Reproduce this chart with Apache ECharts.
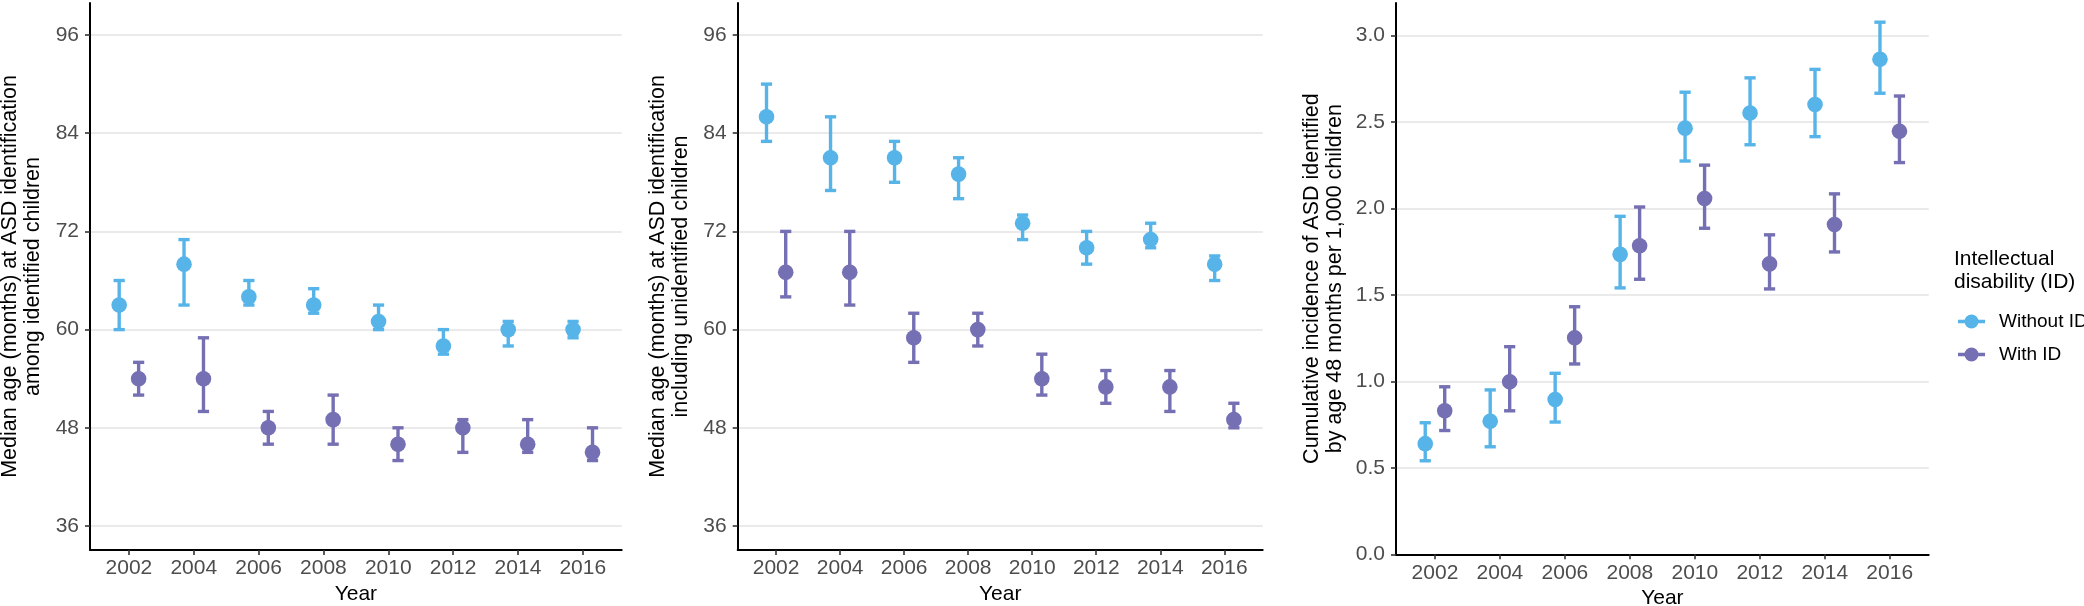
<!DOCTYPE html>
<html><head><meta charset="utf-8">
<script src="https://cdn.jsdelivr.net/npm/echarts@6/dist/echarts.min.js"></script>
<style>html,body{margin:0;padding:0;background:#fff}#c{width:2084px;height:606px}</style>
</head><body><div id="c"></div>
<script>
// ---------- data ----------
const years = [2002, 2004, 2006, 2008, 2010, 2012, 2014, 2016];
const seriesNames = ['Without ID', 'With ID'];

// Panel 1: median age among identified children
const p1WithoutMed = [63, 68, 64, 63, 61, 58, 60, 60];
const p1WithoutLo  = [60, 63, 63, 62, 60, 57, 58, 59];
const p1WithoutHi  = [66, 71, 66, 65, 63, 60, 61, 61];
const p1WithMed = [54, 54, 48, 49, 46, 48, 46, 45];
const p1WithLo  = [52, 50, 46, 46, 44, 45, 45, 44];
const p1WithHi  = [56, 59, 50, 52, 48, 49, 49, 48];

// Panel 2: median age including unidentified children
const p2WithoutMed = [86, 81, 81, 79, 73, 70, 71, 68];
const p2WithoutLo  = [83, 77, 78, 76, 71, 68, 70, 66];
const p2WithoutHi  = [90, 86, 83, 81, 74, 72, 73, 69];
const p2WithMed = [67, 67, 59, 60, 54, 53, 53, 49];
const p2WithLo  = [64, 63, 56, 58, 52, 51, 50, 48];
const p2WithHi  = [72, 72, 62, 62, 57, 55, 55, 51];

// Panel 3: cumulative incidence by 48 months per 1,000
const p3WithoutMed = [0.64, 0.77, 0.895, 1.735, 2.465, 2.553, 2.602, 2.864];
const p3WithoutLo  = [0.541, 0.622, 0.765, 1.541, 2.275, 2.369, 2.416, 2.667];
const p3WithoutHi  = [0.761, 0.951, 1.047, 1.955, 2.673, 2.756, 2.805, 3.078];
const p3WithMed = [0.83, 0.998, 1.253, 1.785, 2.058, 1.68, 1.908, 2.447];
const p3WithLo  = [0.716, 0.83, 1.101, 1.591, 1.886, 1.535, 1.749, 2.266];
const p3WithHi  = [0.969, 1.201, 1.432, 2.009, 2.251, 1.848, 2.085, 2.651];

const ageTicks = [36, 48, 60, 72, 84, 96];
const incTicks = [0, 0.5, 1, 1.5, 2, 2.5, 3];
const yTitle1 = 'Median age (months) at ASD identification\namong identified children';
const yTitle2 = 'Median age (months) at ASD identification\nincluding unidentified children';
const yTitle3 = 'Cumulative incidence of ASD identified\nby age 48 months per 1,000 children';
const xTitle = 'Year';
const legendTitle = 'Intellectual\ndisability (ID)';

// ---------- styling ----------
const FONT = "'Liberation Sans', Arial, Helvetica, sans-serif";
const colors = ['#56B4E9', '#7570B3'];
const dodge = [-0.3, 0.3];
const iconPath = 'path://M0,5.3H27V8.7H0Z M20.5,7A7,7 0 1 1 6.5,7A7,7 0 1 1 20.5,7Z';

function errSeries(name, color, gi, dx, med, lo, hi) {
  return {
    type: 'custom', name: name, xAxisIndex: gi, yAxisIndex: gi, z: 3,
    itemStyle: { color: color },
    data: years.map((y, i) => [y + dx, med[i], lo[i], hi[i]]),
    encode: { x: 0, y: [1, 2, 3] },
    renderItem: function (params, api) {
      const x = api.value(0);
      const pm = api.coord([x, api.value(1)]);
      const pl = api.coord([x, api.value(2)]);
      const ph = api.coord([x, api.value(3)]);
      const cw = 5.6;
      const st = { stroke: color, lineWidth: 3.4, fill: null };
      return {
        type: 'group', children: [
          { type: 'line', shape: { x1: pl[0], y1: pl[1], x2: ph[0], y2: ph[1] }, style: st },
          { type: 'line', shape: { x1: pl[0] - cw, y1: pl[1], x2: pl[0] + cw, y2: pl[1] }, style: st },
          { type: 'line', shape: { x1: ph[0] - cw, y1: ph[1], x2: ph[0] + cw, y2: ph[1] }, style: st },
          { type: 'circle', shape: { cx: pm[0], cy: pm[1], r: 7.8 }, style: { fill: color } }
        ]
      };
    }
  };
}

function xAxisFor(gi) {
  return {
    type: 'value', gridIndex: gi, min: 2000.8, max: 2017.2,
    axisLine: { show: true, onZero: false, lineStyle: { color: '#000', width: 2 } },
    axisTick: { show: true, length: 5, customValues: years, lineStyle: { color: '#333', width: 1.6 } },
    axisLabel: { customValues: years, formatter: v => String(v), fontSize: 21, color: '#4D4D4D', margin: 8, fontFamily: FONT },
    splitLine: { show: false },
    name: xTitle, nameLocation: 'middle', nameGap: 31,
    nameTextStyle: { fontSize: 21, color: '#000', fontFamily: FONT }
  };
}

function yAxisFor(gi, min, max, ticks, title, gap, fmt) {
  return {
    type: 'value', gridIndex: gi, min: min, max: max,
    axisLine: { show: true, onZero: false, lineStyle: { color: '#000', width: 2 } },
    axisTick: { show: true, length: 5, customValues: ticks, lineStyle: { color: '#333', width: 1.6 } },
    axisLabel: { customValues: ticks, formatter: fmt, fontSize: 21, color: '#4D4D4D', margin: 11, fontFamily: FONT },
    splitLine: { show: true, lineStyle: { color: '#e3e3e3', width: 1.6 } },
    name: title, nameLocation: 'middle', nameGap: gap, nameRotate: 90,
    nameTextStyle: { fontSize: 21.5, lineHeight: 23, color: '#000', fontFamily: FONT }
  };
}

const chart = echarts.init(document.getElementById('c'), null, { renderer: 'canvas' });
chart.setOption({
  animation: false,
  backgroundColor: '#fff',
  textStyle: { fontFamily: FONT },
  title: {
    text: legendTitle, left: 1949, top: 243,
    textStyle: { fontSize: 21, lineHeight: 22.5, fontWeight: 'normal', color: '#000', fontFamily: FONT }
  },
  legend: {
    orient: 'vertical', left: 1953, top: 307, itemWidth: 27, itemHeight: 14, itemGap: 14,
    selectedMode: false,
    data: seriesNames.map(n => ({ name: n, icon: iconPath })),
    textStyle: { fontSize: 19, color: '#000', fontFamily: FONT, padding: [0, 0, 0, 9] }
  },
  grid: [
    { left: 90, top: 3, width: 531.7, height: 547, outerBoundsMode: 'none' },
    { left: 737.7, top: 3, width: 525, height: 547, outerBoundsMode: 'none' },
    { left: 1396, top: 3, width: 532.7, height: 551.3, outerBoundsMode: 'none' }
  ],
  xAxis: [xAxisFor(0), xAxisFor(1), xAxisFor(2)],
  yAxis: [
    yAxisFor(0, 33.07, 99.91, ageTicks, yTitle1, 45, v => String(v)),
    yAxisFor(1, 33.07, 99.91, ageTicks, yTitle2, 45, v => String(v)),
    yAxisFor(2, 0, 3.189, incTicks, yTitle3, 49, v => v.toFixed(1))
  ],
  series: [
    errSeries(seriesNames[0], colors[0], 0, dodge[0], p1WithoutMed, p1WithoutLo, p1WithoutHi),
    errSeries(seriesNames[1], colors[1], 0, dodge[1], p1WithMed, p1WithLo, p1WithHi),
    errSeries(seriesNames[0], colors[0], 1, dodge[0], p2WithoutMed, p2WithoutLo, p2WithoutHi),
    errSeries(seriesNames[1], colors[1], 1, dodge[1], p2WithMed, p2WithLo, p2WithHi),
    errSeries(seriesNames[0], colors[0], 2, dodge[0], p3WithoutMed, p3WithoutLo, p3WithoutHi),
    errSeries(seriesNames[1], colors[1], 2, dodge[1], p3WithMed, p3WithLo, p3WithHi)
  ]
});
</script></body></html>
